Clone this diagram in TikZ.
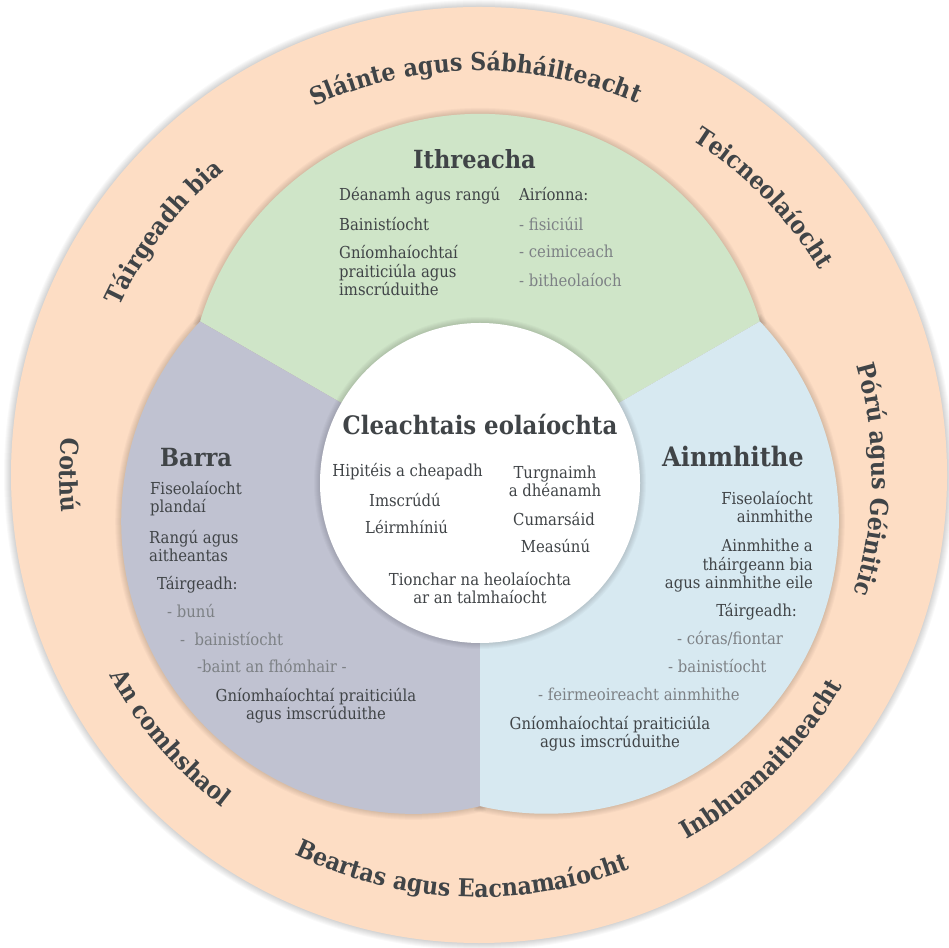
\documentclass[tikz,border=0pt]{standalone}
\usepackage{fontspec}
\setmainfont{DejaVu Serif Condensed}
\usetikzlibrary{decorations.text}

\definecolor{ring}{RGB}{253,221,196}
\definecolor{soil}{RGB}{207,229,200}
\definecolor{crop}{RGB}{192,194,209}
\definecolor{beast}{RGB}{215,233,241}
\definecolor{ink}{RGB}{64,68,71}
\definecolor{inkpale}{RGB}{125,129,133}

\newcommand{\bodyfont}{\fontsize{16.5}{18.5}\selectfont}
\newcommand{\headfont}{\fontsize{25}{28}\selectfont\bfseries}
\newcommand{\midfont}{\fontsize{25.4}{28}\selectfont\bfseries}
\newcommand{\ringfont}{\fontsize{24.6}{27}\selectfont\bfseries}

% ring label, tops outward: angle, baseline radius, text
\newcommand{\ringup}[3]{\path[decorate,decoration={text along path,text align=center,text color=ink,text={|\ringfont|#3}}] (O) ++(#1+70:#2) arc[start angle=#1+70,end angle=#1-70,radius=#2];}
% ring label, tops inward
\newcommand{\ringdown}[3]{\path[decorate,decoration={text along path,text align=center,text color=ink,text={|\ringfont|#3}}] (O) ++(#1-70:#2) arc[start angle=#1-70,end angle=#1+70,radius=#2];}

\begin{document}
\begin{tikzpicture}[x=1pt,y=1pt]
 \tikzset{
  head/.style={font=\headfont,text=ink,inner sep=0pt},
  entry/.style={font=\bodyfont,text=ink,inner sep=0pt},
  faint/.style={entry,text=inkpale},
  halo/.style={black,opacity=0.025}
 }
 \useasboundingbox[fill=white] (0,0) rectangle (949,947);
 \coordinate (O) at (479,472);
 \coordinate (C) at (480,464);

 % outer ring
 \foreach \k in {1,...,7} \draw[halo,line width=2*\k] (O) circle (468);
 \fill[ring] (O) circle (468);

 % three slices
 \foreach \mid in {90,210,330}
  \foreach \k in {1,...,6}
   \draw[halo,line width=2*\k] (C) -- ++(\mid+60:323.2) arc[start angle=\mid+73.1,end angle=\mid-73.1,radius=292.5] -- cycle;
 \foreach \mid/\col in {90/soil,210/crop,330/beast}
  \fill[\col] (C) -- ++(\mid+60:323.2) arc[start angle=\mid+73.1,end angle=\mid-73.1,radius=292.5] -- cycle;

 % centre disc
 \foreach \k in {1,...,6} \draw[halo,line width=2*\k] (C) circle (160);
 \fill[white] (C) circle (160);

 % ring labels
 \ringup{90.5}{404}{Sláinte agus Sábháilteacht}
 \ringup{44.2}{397}{Teicneolaíocht}
 \ringup{-0.7}{393}{Pórú agus Géinitic}
 \ringup{142.4}{397}{Táirgeadh bia}
 \ringdown{180}{419}{Cothú}
 \ringdown{220.4}{420}{An comhshaol}
 \ringdown{267.5}{422}{Beartas agus Eacnamaíocht}
 \ringdown{-45.2}{420}{Inbhuanaitheacht}

 % Ithreacha
 \node[head,anchor=base] (soilhead) at (474.5,778) {Ithreacha};
 \node[entry,anchor=base west] (soil1) at (339,746) {Déanamh agus rangú};
 \node[entry,anchor=base west] (soil2) at (339,716) {Bainistíocht};
 \node[entry,anchor=base west,align=left] (soil3) at (339,651) {Gníomhaíochtaí\\praiticiúla agus\\imscrúduithe};
 \node[entry,anchor=base west] (soil4) at (519,746) {Airíonna:};
 \node[faint,anchor=base west] (soil5) at (519,716) {- fisiciúil};
 \node[faint,anchor=base west] (soil6) at (519,689) {- ceimiceach};
 \node[faint,anchor=base west] (soil7) at (519,660) {- bitheolaíoch};

 % Cleachtais eolaiochta
 \node[head,font=\midfont,anchor=base] (mid) at (480,512) {Cleachtais eolaíochta};
 \node[entry,anchor=base] (mid1) at (407.5,470) {Hipitéis a cheapadh};
 \node[entry,anchor=base] (mid2) at (405,440) {Imscrúdú};
 \node[entry,anchor=base] (mid3) at (406.5,413) {Léirmhíniú};
 \node[entry,anchor=base,align=center] (mid4) at (555,450) {Turgnaimh\\a dhéanamh};
 \node[entry,anchor=base] (mid5) at (554,421) {Cumarsáid};
 \node[entry,anchor=base] (mid6) at (555.5,394) {Measúnú};
 \node[entry,anchor=base,align=center] (mid7) at (480,343) {Tionchar na heolaíochta\\ar an talmhaíocht};

 % Barra
 \node[head,anchor=base west] (crophead) at (160,480) {Barra};
 \node[entry,anchor=base west,align=left] (crop1) at (150,434) {Fiseolaíocht\\plandaí};
 \node[entry,anchor=base west,align=left] (crop2) at (149,385) {Rangú agus\\aitheantas};
 \node[entry,anchor=base west] (crop3) at (157,357) {Táirgeadh:};
 \node[faint,anchor=base west] (crop4) at (167,329) {- bunú};
 \node[faint,anchor=base west] (crop5) at (180,301) {-\ \ bainistíocht};
 \node[faint,anchor=base west] (crop6) at (197,274) {-baint an fhómhair -};
 \node[entry,anchor=base,align=center] (crop7) at (316,227) {Gníomhaíochtaí praiticiúla\\agus imscrúduithe};

 % Ainmhithe
 \node[head,font=\fontsize{26.8}{29}\selectfont\bfseries,anchor=base west] (beasthead) at (662,480) {Ainmhithe};
 \node[entry,anchor=base east,align=right] (beast1) at (813,424) {Fiseolaíocht\\ainmhithe};
 \node[entry,anchor=base east,align=right] (beast2) at (813,358) {Ainmhithe a\\tháirgeann bia\\agus ainmhithe eile};
 \node[entry,anchor=base east] (beast3) at (797,330) {Táirgeadh:};
 \node[faint,anchor=base west] (beast4) at (677,302) {- córas/fiontar};
 \node[faint,anchor=base west] (beast5) at (668,274) {- bainistíocht};
 \node[faint,anchor=base west] (beast6) at (538,246) {- feirmeoireacht ainmhithe};
 \node[entry,anchor=base,align=center] (beast7) at (610,199) {Gníomhaíochtaí praiticiúla\\agus imscrúduithe};
\end{tikzpicture}
\end{document}
